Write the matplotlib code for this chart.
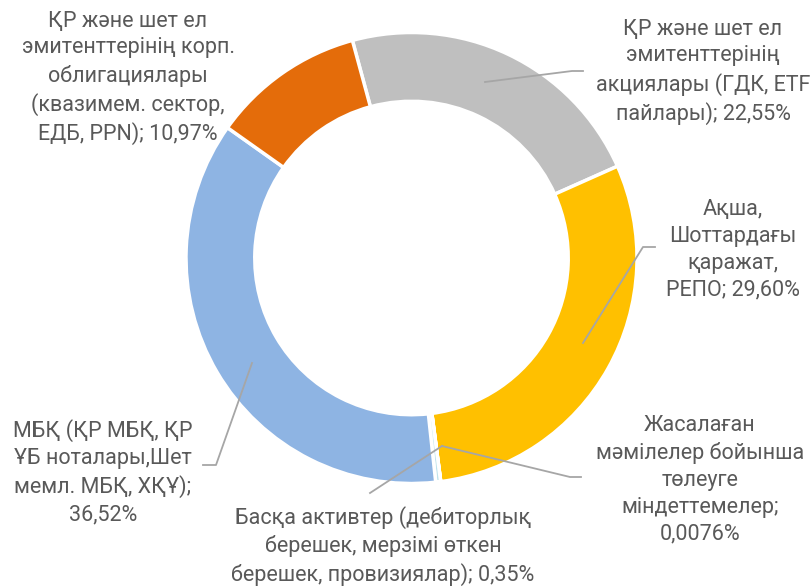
import numpy as np
import matplotlib
matplotlib.use("Agg")
import matplotlib.pyplot as plt

plt.rcParams['font.family'] = ['Roboto', 'DejaVu Sans']

# data (clockwise from the grey slice)
labels = [
    "ҚР және шет ел\nэмитенттерінің\nакциялары (ГДК, ETF\nпайлары); 22,55%",
    "Ақша,\nШоттардағы\nқаражат,\nРЕПО; 29,60%",
    "Жасалаған\nмәмілелер бойынша\nтөлеуге\nміндеттемелер;\n0,0076%",
    "Басқа активтер (дебиторлық\nберешек, мерзімі өткен\nберешек, провизиялар); 0,35%",
    "МБҚ (ҚР МБҚ, ҚР\nҰБ ноталары,Шет\nмемл. МБҚ, ХҚҰ);\n36,52%",
    "ҚР және шет ел\nэмитенттерінің корп.\nоблигациялары\n(квазимем. сектор,\nЕДБ, PPN); 10,97%",
]
values = [22.55, 29.60, 0.0076, 0.35, 36.52, 10.97]
colors = ['#BFBFBF', '#FFC000', '#4BACC6', '#BFE3EC', '#8EB4E3', '#E46C0A']

W, H = 811, 588
cx, cy, R = 411.5, 258, 225.5   # pixel centre / radius of the ring


def px(x, y):
    # pixel (from top-left) -> data coords of the pie axes
    return (x - cx) / R, (cy - y) / R


fig = plt.figure(figsize=(W / 100, H / 100), dpi=100)
ax = fig.add_axes([(cx - R) / W, (H - cy - R) / H, 2 * R / W, 2 * R / H])

start = 90 + 15.2
wedges, _ = ax.pie(values, colors=colors, startangle=start, counterclock=False,
                   radius=1, wedgeprops=dict(width=0.305, edgecolor='white', linewidth=2.5))
ax.set_xlim(-1, 1)
ax.set_ylim(-1, 1)
ax.set_aspect('equal')
ax.axis('off')

txt = dict(ha='center', va='center', color='#595959', fontsize=15.5,
           linespacing=1.36, clip_on=False)
lc = dict(color='#A6A6A6', lw=1.3, clip_on=False)

# text centres (pixels) and leader lines (pixels)
text_pos = [(703, 72), (733, 250), (700, 480), (383, 546), (103, 472), (128, 78)]
leaders = [
    [(485, 82), (572, 71), (583, 71)],
    [(583, 343), (643, 247), (655, 247)],
    [(442, 446), (570, 477), (581, 477)],
    [(442, 446), (370, 493)],
    [(252, 363), (216, 465), (203, 465)],
    None,
]

for lab, pos, ld in zip(labels, text_pos, leaders):
    ax.text(*px(*pos), lab, **txt)
    if ld:
        xs, ys = zip(*[px(*p) for p in ld])
        ax.plot(xs, ys, **lc)

fig.savefig('out.png', dpi=100)
